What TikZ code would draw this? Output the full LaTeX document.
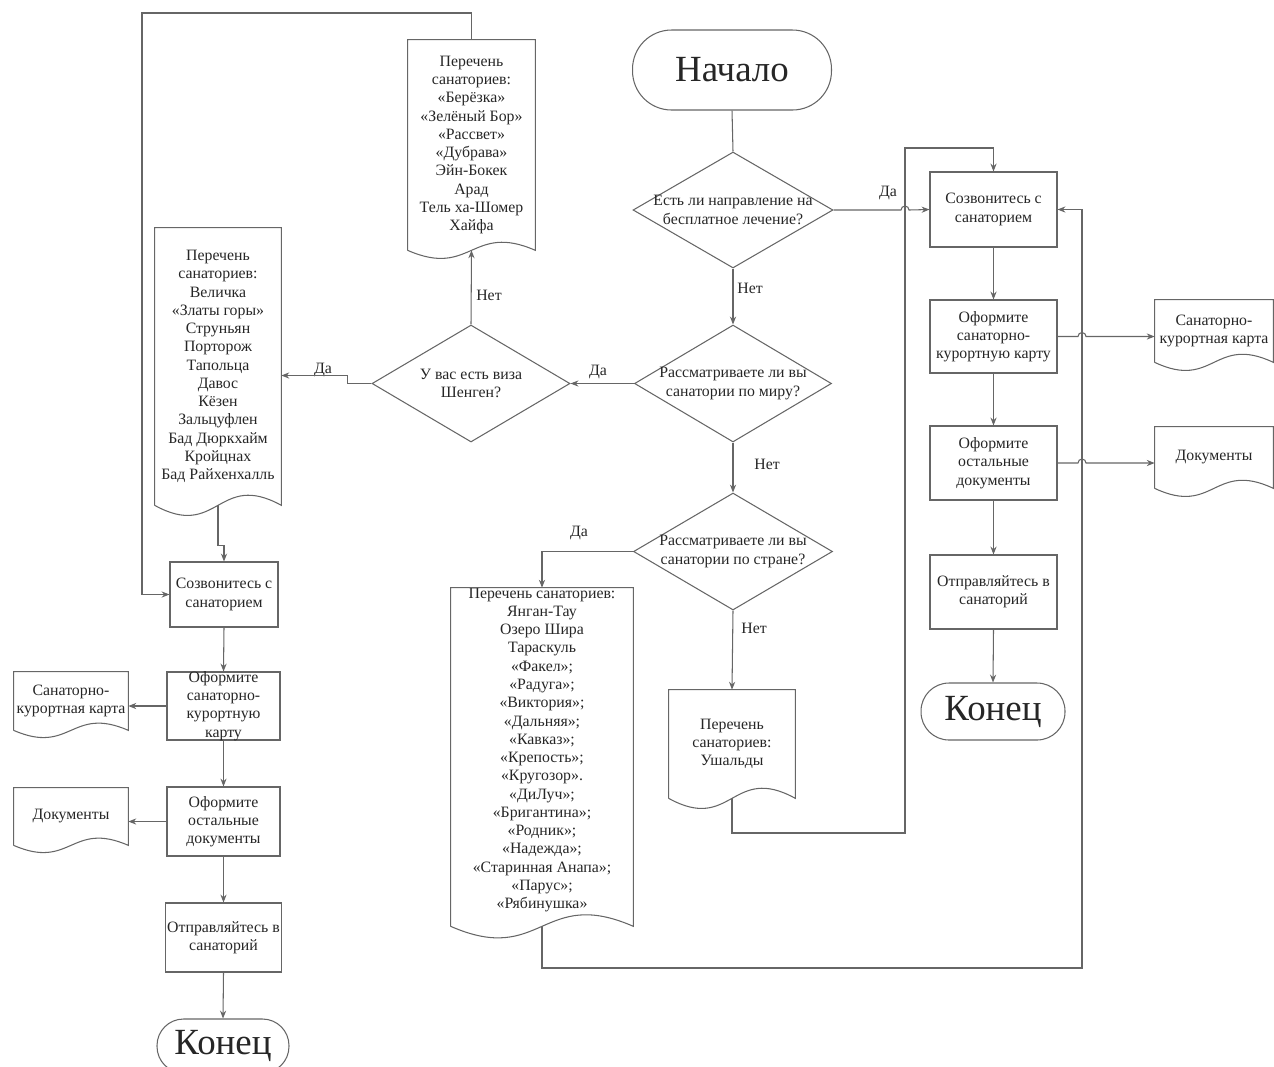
\documentclass[tikz,border=0pt]{standalone}
\usepackage{fontspec}
\setmainfont{Liberation Serif}
\usetikzlibrary{shapes.geometric,arrows.meta,calc}
\newcommand{\docline}[2]{\draw[ln] (#1.south west) -- (#1.north west) -- (#1.north east) -- (#1.south east) .. controls ($(#1.south)+(0,-#2)$) and ($(#1.south)+(0,#2)$) .. (#1.south west);}
\begin{document}
\begin{tikzpicture}[x=0.02cm,y=-0.02cm,
  every node/.style={font=\fontsize{9}{10.4}\selectfont, text=black!85},
  ln/.style={draw=black!60, line width=0.6pt},
  arr/.style={ln, -{Stealth[length=4.5pt,width=3.5pt]}},
  box/.style={rectangle, draw=black!60, line width=0.6pt, fill=white, align=center, inner sep=1pt},
  term/.style={rectangle, draw=black!60, line width=0.6pt, align=center, inner sep=0pt, font=\fontsize{21}{24}\selectfont},
  dia/.style={diamond, draw=black!60, line width=0.6pt, inner sep=0pt},
  txt/.style={align=center, inner sep=0pt},
  doc/.style={rectangle, align=center, inner sep=0pt},
  lbl/.style={inner sep=1pt},
]
\useasboundingbox (0,0) rectangle (1274,1066);
\clip (0,0) rectangle (1274,1066);

% terminals
\node[term, minimum width=3.98cm, minimum height=1.6cm, rounded corners=0.78cm] (start) at (732,70) {Начало};
\node[term, minimum width=2.88cm, minimum height=1.14cm, rounded corners=0.56cm] (endR) at (993,711.5) {Конец};
\node[term, minimum width=2.64cm, minimum height=1.08cm, rounded corners=0.53cm] (endL) at (223,1046) {Конец};

% decisions
\node[dia, minimum width=4cm, minimum height=2.32cm] (d1) at (733,210) {};
\node[txt] (d1t) at (d1) {Есть ли направление на\\бесплатное лечение?};
\node[dia, minimum width=3.94cm, minimum height=2.34cm] (d2) at (733,383.5) {};
\node[txt] (d2t) at (d2) {Рассматриваете ли вы\\санатории по миру?};
\node[dia, minimum width=3.96cm, minimum height=2.34cm] (d3) at (471,383.5) {};
\node[txt] (d3t) at (d3) {У вас есть виза\\Шенген?};
\node[dia, minimum width=3.98cm, minimum height=2.34cm] (d4) at (733,551.5) {};
\node[txt] (d4t) at (d4) {Рассматриваете ли вы\\санатории по стране?};

% documents
\node[doc, minimum width=2.54cm, minimum height=4.2cm] (doc1) at (471.5,145) {Перечень\\санаториев:\\«Берёзка»\\«Зелёный Бор»\\«Рассвет»\\«Дубрава»\\Эйн-Бокек\\Арад\\Тель ха-Шомер\\Хайфа};
\node[doc, minimum width=2.52cm, minimum height=5.54cm] (doc2) at (218,366.5) {Перечень\\санаториев:\\Величка\\«Златы горы»\\Струньян\\Порторож\\Тапольца\\Давос\\Кёзен\\Зальцуфлен\\Бад Дюркхайм\\Кройцнах\\Бад Райхенхалль};
\node[doc, minimum width=3.64cm, minimum height=6.76cm] (doc3) at (542,757) {};
\node[txt] (doc3t) at (542,750) {Перечень санаториев:\\Янган-Тау\\Озеро Шира\\Тараскуль\\«Факел»;\\«Радуга»;\\«Виктория»;\\«Дальняя»;\\«Кавказ»;\\«Крепость»;\\«Кругозор».\\«ДиЛуч»;\\«Бригантина»;\\«Родник»;\\«Надежда»;\\«Старинная Анапа»;\\«Парус»;\\«Рябинушка»};
\node[doc, minimum width=2.52cm, minimum height=2.16cm] (doc4) at (732,744) {Перечень\\санаториев:\\Ушальды};
\node[doc, minimum width=2.28cm, minimum height=1.16cm] (dL1) at (71,701) {Санаторно-\\курортная карта};
\node[doc, minimum width=2.28cm, minimum height=1.14cm] (dL2) at (71,816.5) {Документы};
\node[doc, minimum width=2.36cm, minimum height=1.24cm] (dR1) at (1214,331) {Санаторно-\\курортная карта};
\node[doc, minimum width=2.36cm, minimum height=1.22cm] (dR2) at (1214,457.5) {Документы};
\docline{doc1}{28}
\docline{doc2}{35}
\docline{doc3}{40}
\docline{doc4}{35}
\docline{dL1}{25}
\docline{dL2}{25}
\docline{dR1}{28}
\docline{dR2}{28}

% process boxes right
\node[box, minimum width=2.54cm, minimum height=1.5cm] (R1) at (993.5,209.5) {Созвонитесь с\\санаторием};
\node[box, minimum width=2.54cm, minimum height=1.46cm] (R2) at (993.5,336.5) {Оформите\\санаторно-\\курортную карту};
\node[box, minimum width=2.54cm, minimum height=1.48cm] (R3) at (993.5,463) {Оформите\\остальные\\документы};
\node[box, minimum width=2.54cm, minimum height=1.48cm] (R4) at (993.5,592) {Отправляйтесь в\\санаторий};

% process boxes left
\node[box, minimum width=2.16cm, minimum height=1.3cm] (L1) at (224,594.5) {Созвонитесь с\\санаторием};
\node[box, minimum width=2.26cm, minimum height=1.36cm] (L2) at (223.5,706) {};
\node[txt] (L2t) at (L2) {Оформите\\санаторно-\\курортную\\карту};
\node[box, minimum width=2.26cm, minimum height=1.38cm] (L3) at (223.5,821.5) {Оформите\\остальные\\документы};
\node[box, minimum width=2.3cm, minimum height=1.38cm] (L4) at (223.5,937.5) {Отправляйтесь в\\санаторий};

% labels
\node[lbl] (la1) at (888,193) {Да};
\node[lbl] (la2) at (750,288) {Нет};
\node[lbl] (la3) at (598,372) {Да};
\node[lbl] (la4) at (489,295) {Нет};
\node[lbl] (la5) at (323,370) {Да};
\node[lbl] (la6) at (767,464) {Нет};
\node[lbl] (la7) at (579,533) {Да};
\node[lbl] (la8) at (754,628) {Нет};

% helper coordinates
\coordinate (tl) at (142,13);
\coordinate (b4) at (905,833);
\coordinate (t4) at (905,148);
\coordinate (b3) at (1082,968);

% connectors
\draw[ln] (start.south) -- (d1.north);
\draw[arr] (d1.east) -- ($(d1.east -| b4)+(-4,0)$) arc (180:360:4) -- (R1.west);
\draw[arr] (d1.south) -- (d2.north);
\draw[arr] (d2.west) -- (d3.east);
\draw[arr] (d3.north) -- (doc1.south);
\draw[arr] (d3.west) -- ++(-24,0) |- ($(doc2.east)+(0,9)$);
\draw[arr] (doc2.south) -- ++(0,40) -| (L1.north);
\draw[arr] (doc1.north) |- (tl) |- (L1.west);
\draw[arr] (L1.south) -- (L2.north);
\draw[arr] (L2.west) -- (L2.west -| dL1.east);
\draw[arr] (L2.south) -- (L3.north);
\draw[arr] (L3.west) -- (L3.west -| dL2.east);
\draw[arr] (L3.south) -- (L4.north);
\draw[arr] (L4.south) -- (endL.north);
\draw[arr] (d2.south) -- (d4.north);
\draw[arr] (d4.west) -| (doc3.north);
\draw[arr] (d4.south) -- (doc4.north);
\draw[arr] (doc4.south) |- (b4) -- (t4) -| (R1.north);
\draw[arr] (doc3.south) |- (b3) |- (R1.east);
\draw[arr] (R1.south) -- (R2.north);
\draw[arr] (R2.east) -- ($(R2.east -| b3)+(-4,0)$) arc (180:360:4) -- (R2.east -| dR1.west);
\draw[arr] (R2.south) -- (R3.north);
\draw[arr] (R3.east) -- ($(R3.east -| b3)+(-4,0)$) arc (180:360:4) -- (R3.east -| dR2.west);
\draw[arr] (R3.south) -- (R4.north);
\draw[arr] (R4.south) -- (endR.north);
\end{tikzpicture}
\end{document}
